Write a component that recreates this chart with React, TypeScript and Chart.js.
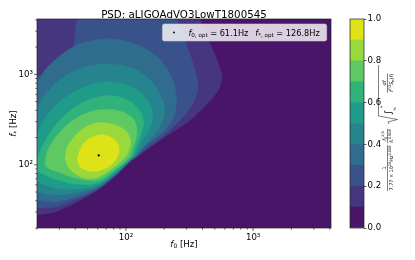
import React, { useEffect, useRef } from 'react';
import { Chart, registerables } from 'chart.js';

Chart.register(...registerables);

const FONT = "'DejaVu Sans', 'Liberation Sans', sans-serif";

const TITLE = 'PSD: aLIGOAdVO3LowT1800545';
const AXIS_MIN = 20;
const AXIS_MAX = 4096;
const LEVELS = [0, 0.1, 0.2, 0.3, 0.4, 0.5, 0.6, 0.7, 0.8, 0.9, 1.0];
const LEVEL_COLORS = ['#481568', '#46357f', '#3a528b', '#2f6c8e', '#25848e', '#1f9c89', '#30b37b', '#5ec862', '#9ad93c', '#dee318'];
const COLORBAR_STEP = 0.2;
const OPT_F0 = 61.1;
const OPT_FSTAR = 126.8;

// filled-contour boundaries, [f0 (Hz), f* (Hz)], region inside has value >= level
const contour01 = [[16.7, 27.9], [16.7, 5284], [368.8, 5284], [382.4, 4096], [426.3, 2726], [483.8, 1861], [539.4, 1270], [569.5, 935], [539.4, 689], [458.2, 508], [375.5, 384], [307.7, 297], [197.8, 198], [125.1, 125], [107.7, 107], [85.1, 77.1], [60.3, 52.6], [39.8, 37.8], [27.7, 30.1], [20, 27.9]];
const contour02 = [[16.7, 33.3], [16.7, 1270], [20, 1018], [27.7, 662], [38.4, 430], [46.0, 5284], [243.2, 5284], [252.2, 4096], [286.2, 2526], [324.8, 1557], [355.7, 1010], [368.8, 725], [349.2, 534], [307.7, 394], [266.3, 313], [222.2, 243], [178.8, 188], [143.9, 150], [123.8, 125], [107.7, 109], [85.1, 79.1], [60.3, 54.0], [39.8, 40.8], [27.7, 34.1], [20, 33.3]];
const contour03 = [[16.7, 40.8], [16.7, 638], [20, 824], [23.1, 1118], [27.7, 1442], [35.1, 1861], [45.2, 2224], [64.9, 2462], [89.8, 2400], [117.9, 2168], [154.7, 1800], [192.2, 1380], [226.2, 965], [245.0, 665], [249.0, 470], [238.0, 345], [210.0, 257], [172.0, 198], [141.3, 162], [122.2, 127], [107.7, 110], [85.1, 80.1], [60.3, 55.4], [39.8, 44.1], [27.7, 38.8], [20, 40.8]];
const contour04 = [[16.7, 50.0], [16.7, 329], [20, 436], [23.1, 592], [28.7, 824], [37.7, 1062], [50.3, 1238], [72.3, 1303], [98.4, 1238], [129.1, 1062], [158.0, 850], [182.0, 640], [200.0, 460], [200.0, 345], [182.0, 255], [158.0, 195], [137.0, 155], [120.0, 128], [107.7, 112], [85.1, 82.2], [60.3, 57.6], [39.8, 48.8], [27.7, 46.3], [20, 50.0]];
const contour05 = [[16.7, 64.5], [16.7, 153], [20, 225], [23.1, 329], [28.7, 470], [37.7, 622], [52.2, 763], [75.0, 824], [102.0, 763], [127.0, 650], [148.0, 510], [162.0, 390], [160.0, 295], [148.0, 232], [133.0, 177], [116.8, 125], [107.7, 113], [85.1, 84.3], [60.3, 59.8], [39.8, 54.0], [27.7, 55.4], [20, 64.5]];
const contour06 = [[18.3, 99.5], [20, 119], [22.3, 166], [26.2, 243], [33.2, 355], [43.6, 470], [60.3, 562], [82.1, 577], [106.0, 508], [124.0, 420], [136.0, 330], [136.0, 262], [128.0, 195], [112.7, 125], [105.8, 114], [85.1, 87.6], [60.3, 62.9], [39.8, 61.3], [27.7, 69.7], [20, 85.4]];
const contour07 = [[23.1, 99.5], [24.0, 139], [27.7, 198], [34.4, 276], [45.2, 355], [60.3, 404], [82.1, 404], [102.0, 365], [116.0, 310], [122.0, 250], [120.0, 195], [114.0, 155], [107.7, 125], [102.0, 114], [85.1, 92.2], [60.3, 67.9], [39.8, 71.4], [29.3, 83.2], [24.9, 89.8]];
const contour08 = [[33.2, 113], [34.4, 153], [39.1, 203], [46.8, 255], [58.2, 290], [72.3, 290], [86.7, 269], [100.2, 237], [107.7, 198], [107.7, 157], [100.2, 125], [85.1, 99.5], [60.3, 73.3], [47.7, 71.4], [39.1, 81.2], [35.1, 94.5]];
const contour09 = [[41.3, 113], [43.6, 146], [48.6, 183], [57.2, 208], [67.3, 214], [77.7, 198], [86.7, 170], [88.2, 139], [82.1, 110], [72.3, 94.5], [60.3, 85.4], [50.3, 85.4], [43.6, 94.5]];

const CONTOURS = [contour01, contour02, contour03, contour04, contour05, contour06, contour07, contour08, contour09];

const SUP: Record<string, string> = { '0': '⁰', '1': '¹', '2': '²', '3': '³', '4': '⁴', '5': '⁵', '6': '⁶', '7': '⁷', '8': '⁸', '9': '⁹' };

function decade(v: number): number | null {
  const e = Math.log10(v);
  const r = Math.round(e);
  return Math.abs(e - r) < 1e-9 ? r : null;
}
function tickKind(v: number): number {
  const e = Math.floor(Math.log10(v) + 1e-9);
  const m = v / Math.pow(10, e);
  if (Math.abs(m - 1) < 1e-6) return 2;
  if (Math.abs(m - Math.round(m)) < 1e-6) return 1;
  return 0;
}
function logTickLabel(value: number | string) {
  const d = decade(Number(value));
  if (d === null) return '';
  return '10' + String(d).split('').map((c) => SUP[c] || c).join('');
}

type Run = { t: string; size: number; italic?: boolean; dy?: number };
function setFont(ctx: CanvasRenderingContext2D, r: Run) {
  ctx.font = `${r.italic ? 'italic ' : ''}${r.size}px ${FONT}`;
}
function runsWidth(ctx: CanvasRenderingContext2D, runs: Run[]) {
  let w = 0;
  for (const r of runs) {
    setFont(ctx, r);
    w += ctx.measureText(r.t).width;
  }
  return w;
}
function drawRuns(ctx: CanvasRenderingContext2D, x: number, y: number, runs: Run[]) {
  ctx.textAlign = 'left';
  ctx.textBaseline = 'alphabetic';
  for (const r of runs) {
    setFont(ctx, r);
    ctx.fillText(r.t, x, y + (r.dy || 0));
    x += ctx.measureText(r.t).width;
  }
  return x;
}

const FS = 8.6;
const SUB = 6;
const LFS = 8.2;
const LSUB = 5.6;

const mainDecor = {
  id: 'mainDecor',
  beforeDatasetsDraw(chart: any) {
    const { ctx, chartArea: a } = chart;
    ctx.save();
    ctx.fillStyle = LEVEL_COLORS[0];
    ctx.fillRect(a.left, a.top, a.right - a.left, a.bottom - a.top);
    ctx.restore();
  },
  afterDraw(chart: any) {
    const { ctx, chartArea: a } = chart;
    ctx.save();
    ctx.strokeStyle = '#222';
    ctx.lineWidth = 0.7;
    const xs = chart.scales.x;
    const ys = chart.scales.y;
    for (const t of xs.ticks) {
      const k = tickKind(t.value);
      if (!k) continue;
      const px = xs.getPixelForValue(t.value);
      if (px < a.left - 0.5 || px > a.right + 0.5) continue;
      const len = k === 2 ? 3 : 1.7;
      ctx.beginPath();
      ctx.moveTo(px, a.bottom);
      ctx.lineTo(px, a.bottom + len);
      ctx.stroke();
    }
    for (const t of ys.ticks) {
      const k = tickKind(t.value);
      if (!k) continue;
      const py = ys.getPixelForValue(t.value);
      if (py < a.top - 0.5 || py > a.bottom + 0.5) continue;
      const len = k === 2 ? 3 : 1.7;
      ctx.beginPath();
      ctx.moveTo(a.left, py);
      ctx.lineTo(a.left - len, py);
      ctx.stroke();
    }
    ctx.strokeRect(a.left, a.top, a.right - a.left, a.bottom - a.top);

    ctx.fillStyle = '#000';
    ctx.font = `10.3px ${FONT}`;
    ctx.textAlign = 'center';
    ctx.textBaseline = 'alphabetic';
    ctx.fillText(TITLE, (a.left + a.right) / 2, a.top - 1);

    const xr: Run[] = [
      { t: 'f', size: FS, italic: true },
      { t: '0', size: SUB, dy: 1.8 },
      { t: ' [Hz]', size: FS },
    ];
    const xw = runsWidth(ctx, xr);
    drawRuns(ctx, (a.left + a.right) / 2 - xw / 2, a.bottom + 18.5, xr);

    const yr: Run[] = [
      { t: 'f', size: FS, italic: true },
      { t: '*', size: SUB, dy: 1.8 },
      { t: ' [Hz]', size: FS },
    ];
    const yw = runsWidth(ctx, yr);
    ctx.save();
    ctx.translate(a.left - 21.2, (a.top + a.bottom) / 2);
    ctx.rotate(-Math.PI / 2);
    drawRuns(ctx, -yw / 2, 0, yr);
    ctx.restore();

    // legend
    const r1: Run[] = [
      { t: 'f', size: LFS, italic: true },
      { t: '0, opt', size: LSUB, dy: 1.7 },
      { t: ` = ${OPT_F0.toFixed(1)}Hz`, size: LFS },
    ];
    const r2: Run[] = [
      { t: 'f', size: LFS, italic: true },
      { t: '*, opt', size: LSUB, dy: 1.7 },
      { t: ` = ${OPT_FSTAR.toFixed(1)}Hz`, size: LFS },
    ];
    const w1 = runsWidth(ctx, r1);
    const w2 = runsWidth(ctx, r2);
    const gap = 7;
    const boxW = 26 + w1 + gap + w2 + 7;
    const boxH = 17;
    const bx = a.right - 4.3 - boxW;
    const by = a.top + 5;
    ctx.beginPath();
    if ((ctx as any).roundRect) (ctx as any).roundRect(bx, by, boxW, boxH, 2);
    else ctx.rect(bx, by, boxW, boxH);
    ctx.fillStyle = 'rgba(255,255,255,0.8)';
    ctx.fill();
    ctx.strokeStyle = 'rgba(204,204,204,0.8)';
    ctx.lineWidth = 0.7;
    ctx.stroke();
    ctx.fillStyle = '#000';
    ctx.beginPath();
    ctx.arc(bx + 11.5, by + boxH / 2, 0.9, 0, Math.PI * 2);
    ctx.fill();
    const base = by + boxH / 2 + 3;
    const e1 = drawRuns(ctx, bx + 26, base, r1);
    drawRuns(ctx, e1 + gap, base, r2);
    ctx.restore();
  },
};

const cbDecor = {
  id: 'cbDecor',
  afterDraw(chart: any) {
    const { ctx, chartArea: a } = chart;
    ctx.save();
    ctx.strokeStyle = '#222';
    ctx.lineWidth = 0.7;
    ctx.strokeRect(a.left, a.top, a.right - a.left, a.bottom - a.top);

    ctx.fillStyle = '#000';
    ctx.strokeStyle = '#000';
    ctx.lineWidth = 0.5;
    ctx.translate(a.right + 23.5, a.bottom - 42);
    ctx.rotate(-Math.PI / 2);
    const M = 4.9;
    const S = 3.5;
    const frac = (cx: number, num: Run[], den: Run[]) => {
      const wn = runsWidth(ctx, num);
      const wd = runsWidth(ctx, den);
      const w = Math.max(wn, wd) + 1;
      drawRuns(ctx, cx - wn / 2, -1.6, num);
      drawRuns(ctx, cx - wd / 2, 5.4, den);
      ctx.beginPath();
      ctx.moveTo(cx - w / 2, 0);
      ctx.lineTo(cx + w / 2, 0);
      ctx.stroke();
    };
    frac(18, [{ t: '1', size: M }], [
      { t: '7.77 × 10', size: M },
      { t: '20', size: S, dy: -2.2 },
      { t: 'Hz', size: M },
      { t: '0.008', size: S, dy: -2.2 },
    ]);
    frac(50, [
      { t: 'f', size: M, italic: true },
      { t: '0', size: S, dy: 1 },
      { t: '2/3', size: S, dy: -2.4 },
    ], [
      { t: 'f', size: M, italic: true },
      { t: '*', size: S, dy: 1 },
      { t: '0.508', size: S, dy: -2.4 },
    ]);
    ctx.beginPath();
    ctx.moveTo(62, 1.5);
    ctx.lineTo(64, 0.5);
    ctx.lineTo(66.5, 10);
    ctx.lineTo(70, -9);
    ctx.lineTo(121, -9);
    ctx.stroke();
    drawRuns(ctx, 71, 3.5, [{ t: '∫', size: 9.5 }]);
    drawRuns(ctx, 75.5, 8, [{ t: 'f', size: S, italic: true }, { t: '0', size: 2.8, dy: 0.8 }]);
    drawRuns(ctx, 78, -5, [{ t: 'f', size: S, italic: true }, { t: '*', size: 2.8, dy: 0.8 }]);
    frac(103, [{ t: 'df', size: M, italic: true }], [
      { t: 'f', size: M, italic: true },
      { t: '7/3', size: S, dy: -2.2 },
      { t: 'S', size: M, italic: true },
      { t: 'n', size: S, dy: 1 },
      { t: '(', size: M },
      { t: 'f', size: M, italic: true },
      { t: ')', size: M },
    ]);
    ctx.restore();
  },
};

export default function App() {
  const mainRef = useRef<HTMLCanvasElement>(null);
  const cbRef = useRef<HTMLCanvasElement>(null);

  useEffect(() => {
    if (!mainRef.current || !cbRef.current) return;
    const gridColor = (c: any) =>
      c.tick && decade(c.tick.value) !== null ? 'rgba(176,176,176,0.5)' : 'rgba(0,0,0,0)';

    const datasets: any[] = CONTOURS.map((pts, i) => ({
      type: 'line',
      label: `>= ${LEVELS[i + 1].toFixed(1)}`,
      data: pts.map(([x, y]) => ({ x, y })),
      backgroundColor: LEVEL_COLORS[i + 1],
      borderColor: LEVEL_COLORS[i + 1],
      borderWidth: 0.5,
      pointRadius: 0,
      fill: 'shape',
      tension: 0.3,
      capBezierPoints: false,
      clip: 0,
      order: 20 - i,
    }));
    datasets.push({
      type: 'line',
      label: 'optimum',
      data: [{ x: OPT_F0, y: OPT_FSTAR }],
      showLine: false,
      pointRadius: 1.1,
      pointBorderWidth: 0,
      pointBackgroundColor: '#000',
      order: 0,
    });

    const main = new Chart(mainRef.current, {
      type: 'line',
      data: { datasets },
      plugins: [mainDecor],
      options: {
        responsive: false,
        animation: false,
        events: [],
        layout: { padding: { left: 0, top: 19, right: 84, bottom: 0 } },
        plugins: { legend: { display: false }, tooltip: { enabled: false } },
        scales: {
          x: {
            type: 'logarithmic',
            min: AXIS_MIN,
            max: AXIS_MAX,
            z: 1,
            afterFit: (s: any) => {
              s.height = 32;
            },
            grid: { color: gridColor, lineWidth: 0.8, drawTicks: false },
            border: { display: false },
            ticks: {
              autoSkip: false,
              maxRotation: 0,
              padding: 5,
              color: '#000',
              font: { family: FONT, size: FS },
              callback: logTickLabel,
            },
          },
          y: {
            type: 'logarithmic',
            min: AXIS_MIN,
            max: AXIS_MAX,
            z: 1,
            afterFit: (s: any) => {
              s.width = 37;
            },
            grid: { color: gridColor, lineWidth: 0.8, drawTicks: false },
            border: { display: false },
            ticks: {
              autoSkip: false,
              padding: 4,
              color: '#000',
              font: { family: FONT, size: FS },
              callback: logTickLabel,
            },
          },
        },
      } as any,
    } as any);

    const cbDatasets = LEVEL_COLORS.map((c, i) => ({
      label: `${LEVELS[i].toFixed(1)}-${LEVELS[i + 1].toFixed(1)}`,
      data: [LEVELS[i + 1] - LEVELS[i]],
      backgroundColor: c,
      borderWidth: 0,
      barPercentage: 1,
      categoryPercentage: 1,
    }));

    const cb = new Chart(cbRef.current, {
      type: 'bar',
      data: { labels: [''], datasets: cbDatasets },
      plugins: [cbDecor],
      options: {
        responsive: false,
        animation: false,
        events: [],
        layout: { padding: { left: 10, top: 19, bottom: 32, right: 0 } },
        plugins: { legend: { display: false }, tooltip: { enabled: false } },
        scales: {
          x: { display: false, stacked: true },
          y: {
            stacked: true,
            position: 'right',
            min: LEVELS[0],
            max: LEVELS[LEVELS.length - 1],
            afterFit: (s: any) => {
              s.width = 51;
            },
            grid: { drawOnChartArea: false, drawTicks: true, tickLength: 2.5, tickColor: '#222', tickWidth: 0.7 },
            border: { display: false },
            ticks: {
              stepSize: COLORBAR_STEP,
              padding: 1,
              color: '#000',
              font: { family: FONT, size: FS },
              callback: (v: any) => Number(v).toFixed(1),
            },
          },
        },
      } as any,
    } as any);

    return () => {
      main.destroy();
      cb.destroy();
    };
  }, []);

  return (
    <div style={{ position: 'fixed', left: 0, top: 0, width: 415, height: 260, background: '#fff' }}>
      <canvas
        ref={mainRef}
        width={415}
        height={260}
        style={{ position: 'absolute', left: 0, top: 0, width: 415, height: 260, display: 'block' }}
      />
      <canvas
        ref={cbRef}
        width={75}
        height={260}
        style={{ position: 'absolute', left: 340, top: 0, width: 75, height: 260, display: 'block' }}
      />
    </div>
  );
}
